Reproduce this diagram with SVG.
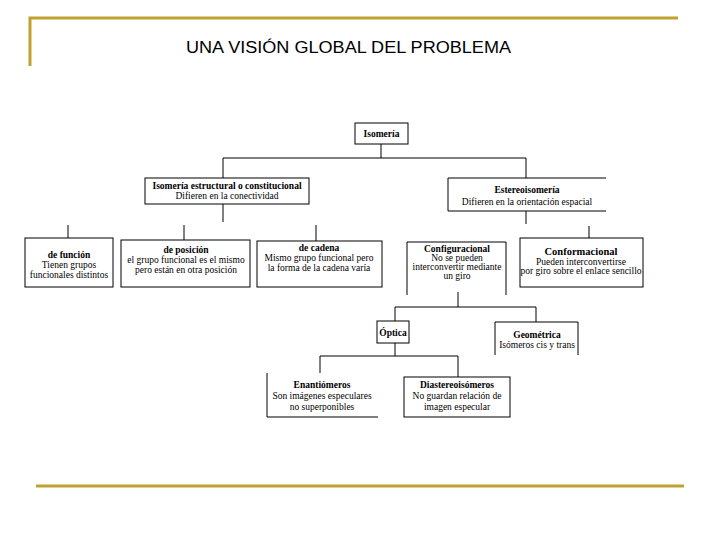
<svg xmlns="http://www.w3.org/2000/svg" width="720" height="540" viewBox="0 0 720 540">
<style>
.gold{stroke:#BFA12E;stroke-width:3;fill:none}
.box{fill:#fff;stroke:#000;stroke-width:1}
.edge{fill:none;stroke:#000;stroke-width:1}
.t{font-family:"Liberation Serif","Times New Roman",serif;font-size:9.5px;fill:#000;text-anchor:middle}
.b{font-weight:bold}
.big{font-size:10.5px}
.title{font-family:"Liberation Sans",Arial,sans-serif;font-size:16px;fill:#000}
</style>
<rect width="720" height="540" fill="#fff"/>
<g id="frame">
<path class="gold" d="M30,66 V18 H678"/>
<path class="gold" d="M36,486 H684"/>
<text class="title" x="186" y="53" textLength="325" lengthAdjust="spacingAndGlyphs">UNA VISIÓN GLOBAL DEL PROBLEMA</text>
</g>
<g id="connectors" class="edge">
<path d="M381,144 V158 M223,158 H526 M223,158 V178 M526,158 V178"/>
<path d="M223,204 V222 M68,225 V238 M184,225 V240 M316,225 V241"/>
<path d="M526,211 V224 M589,226 V238"/>
<path d="M458,292 V307 M395,307 H536 M395,307 V321 M536,307 V322"/>
<path d="M395,343 V356 M320,356 H458 M320,356 V373 M458,356 V377"/>
</g>
<g id="isomeria">
<rect class="box" x="355" y="123" width="53" height="21"/>
<text class="t b" x="381.5" y="137">Isomería</text>
</g>
<g id="estructural">
<rect class="box" x="145" y="178" width="164" height="26"/>
<text class="t b" x="227" y="189">Isomería estructural o constitucional</text>
<text class="t" x="227" y="199">Difieren en la conectividad</text>
</g>
<g id="estereo">
<path class="edge" d="M606,178 H448 V211 H606"/>
<text class="t b" x="527" y="193">Estereoisomería</text>
<text class="t" x="527" y="205">Difieren en la orientación espacial</text>
</g>
<g id="funcion">
<rect class="box" x="25" y="238" width="88" height="49"/>
<text class="t b" x="69" y="258">de función</text>
<text class="t" x="69" y="268">Tienen grupos</text>
<text class="t" x="69" y="278">funcionales distintos</text>
</g>
<g id="posicion">
<rect class="box" x="121" y="240" width="129" height="47"/>
<text class="t b" x="186" y="253">de posición</text>
<text class="t" x="186" y="263">el grupo funcional es el mismo</text>
<text class="t" x="186" y="273">pero están en otra posición</text>
</g>
<g id="cadena">
<rect class="box" x="257" y="241" width="125" height="46"/>
<text class="t b" x="319" y="251">de cadena</text>
<text class="t" x="319" y="261">Mismo grupo funcional pero</text>
<text class="t" x="319" y="271">la forma de la cadena varía</text>
</g>
<g id="configuracional">
<path class="edge" d="M407,295 V242 H506 V295"/>
<text class="t b" x="457" y="252">Configuracional</text>
<text class="t" x="457" y="261">No se pueden</text>
<text class="t" x="457" y="270">interconvertir mediante</text>
<text class="t" x="457" y="279">un giro</text>
</g>
<g id="conformacional">
<rect class="box" x="520" y="238" width="123" height="49"/>
<text class="t b big" x="581" y="255">Conformacional</text>
<text class="t" x="581" y="265">Pueden interconvertirse</text>
<text class="t" x="581" y="274">por giro sobre el enlace sencillo</text>
</g>
<g id="optica">
<rect class="box" x="377" y="321" width="32" height="22"/>
<text class="t b" x="393" y="336">Óptica</text>
</g>
<g id="geometrica">
<path class="edge" d="M495,355 V322 H578 V355"/>
<text class="t b" x="537" y="338">Geométrica</text>
<text class="t" x="537" y="348">Isómeros cis y trans</text>
</g>
<g id="enantiomeros">
<path class="edge" d="M267,373 V417 H378"/>
<text class="t b" x="322" y="388">Enantiómeros</text>
<text class="t" x="322" y="399">Son imágenes especulares</text>
<text class="t" x="322" y="410">no superponibles</text>
</g>
<g id="diastereo">
<rect class="box" x="404" y="377" width="106" height="40"/>
<text class="t b" x="457" y="388">Diastereoisómeros</text>
<text class="t" x="457" y="399">No guardan relación de</text>
<text class="t" x="457" y="410">imagen especular</text>
</g>
</svg>
